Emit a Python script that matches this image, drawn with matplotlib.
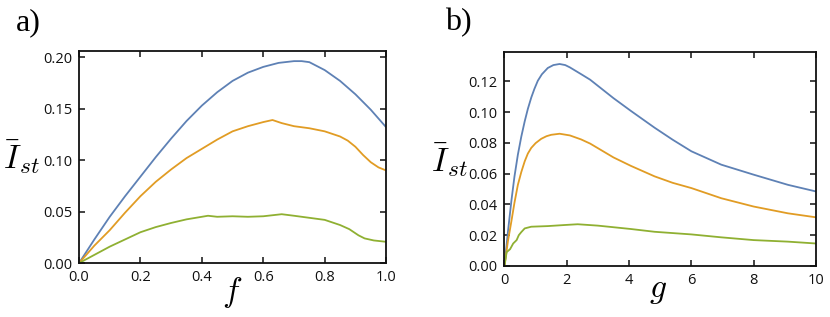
import matplotlib
matplotlib.use("Agg")
import matplotlib.pyplot as plt

plt.rcParams['mathtext.fontset'] = 'cm'
plt.rcParams['font.family'] = ['Open Sans', 'DejaVu Sans']

# ---- data, panel a (vs f) ----
f_blue = [0, .05, .1, .15, .2, .25, .3, .35, .4, .45, .5, .55, .6, .65, .7, .725, .75, .8, .85, .9, .95, 1.0]
a_blue = [0, .023, .045, .065, .084, .103, .121, .138, .153, .166, .177, .185, .1906, .1945, .1962, .1962, .1952, .1875, .177, .164, .149, .132]

f_orange = [0, .05, .1, .15, .2, .25, .3, .35, .4, .45, .5, .55, .6, .63, .66, .7, .75, .8, .85, .875, .9, .925, .95, .975, 1.0]
a_orange = [0, .017, .032, .049, .065, .079, .091, .102, .111, .120, .128, .133, .137, .139, .136, .133, .131, .128, .123, .119, .113, .105, .098, .093, .090]

f_green = [0, .05, .1, .15, .2, .25, .3, .35, .4, .42, .45, .5, .55, .6, .63, .66, .7, .75, .8, .85, .88, .91, .93, .96, 1.0]
a_green = [0, .008, .016, .023, .030, .035, .039, .0425, .045, .046, .045, .0455, .045, .0455, .0465, .0475, .046, .044, .042, .037, .033, .027, .024, .022, .0207]

# ---- data, panel b (vs g) ----
g_blue = [0, .11, .22, .32, .43, .54, .65, .75, .86, .96, 1.07, 1.2, 1.39, 1.57, 1.77, 1.95, 2.1, 2.46, 2.75,
          3.0, 3.5, 4.06, 4.82, 5.4, 6.0, 6.96, 8.0, 9.1, 10]
b_blue = [0, .022, .042, .058, .0723, .084, .094, .102, .1094, .115, .1203, .1245, .1286, .1305, .1312, .1305, .129, .1246, .121,
          .117, .109, .1007, .0898, .082, .0745, .0658, .0593, .0527, .0484]

g_orange = [0, .11, .22, .32, .43, .54, .65, .75, .86, 1.0, 1.18, 1.35, 1.5, 1.77, 2.1, 2.46, 2.75,
            3.0, 3.5, 4.06, 4.82, 5.4, 6.0, 6.96, 8.0, 9.1, 10]
b_orange = [0, .016, .0288, .041, .0527, .061, .068, .073, .0767, .0798, .0826, .0843, .0852, .0859, .0848, .0822, .0795,
            .0765, .0705, .065, .0582, .054, .0506, .044, .0386, .0342, .0316]

g_green = [0, .07, .18, .28, .39, .46, .54, .65, .86, 1.39, 1.93, 2.35, 3.0, 4.06, 4.82, 6.0, 6.96, 8.0, 9.1, 10]
b_green = [0, .009, .0109, .0146, .0168, .020, .022, .0244, .0255, .0259, .0266, .0271, .0262, .024, .0222, .0205, .0186, .0168, .0158, .0146]

BLUE, ORANGE, GREEN = '#5E81B5', '#E19C24', '#8FB032'

fig = plt.figure(figsize=(8.3, 3.17), dpi=100)
ax1 = fig.add_axes([0.0952, 0.170, 0.370, 0.669])
ax2 = fig.add_axes([0.6078, 0.161, 0.3753, 0.675])


def style(ax):
    for s in ax.spines.values():
        s.set_linewidth(1.3)
        s.set_color('#111111')
    ax.tick_params(direction='in', top=True, right=True, length=4, width=1.1,
                   labelsize=10.5, colors='#111111')
    ax.tick_params(axis='x', pad=5)
    ax.tick_params(axis='y', pad=5)


# panel a
ax1.plot(f_blue, a_blue, color=BLUE, lw=1.3)
ax1.plot(f_orange, a_orange, color=ORANGE, lw=1.3)
ax1.plot(f_green, a_green, color=GREEN, lw=1.3)
ax1.set_xlim(0, 1)
ax1.set_ylim(0, 0.206)
ax1.set_xticks([0, 0.2, 0.4, 0.6, 0.8, 1.0])
ax1.set_yticks([0, 0.05, 0.10, 0.15, 0.20])
ax1.set_xticklabels(['0.0', '0.2', '0.4', '0.6', '0.8', '1.0'])
ax1.set_yticklabels(['0.00', '0.05', '0.10', '0.15', '0.20'])
style(ax1)
fig.text(232 / 830, 1 - 292 / 317, r'$f$', fontsize=24, ha='center', va='center')
fig.text(21 / 830, 1 - 157 / 317, r'$\bar{I}_{st}$', fontsize=24, ha='center', va='center')
fig.text(28 / 830, 1 - 23 / 317, 'a)', fontsize=23, family='Liberation Serif', ha='center', va='center')

# panel b
ax2.plot(g_blue, b_blue, color=BLUE, lw=1.3)
ax2.plot(g_orange, b_orange, color=ORANGE, lw=1.3)
ax2.plot(g_green, b_green, color=GREEN, lw=1.3)
ax2.set_xlim(0, 10)
ax2.set_ylim(0, 0.139)
ax2.set_xticks([0, 2, 4, 6, 8, 10])
ax2.set_yticks([0, 0.02, 0.04, 0.06, 0.08, 0.10, 0.12])
ax2.set_yticklabels(['0.00', '0.02', '0.04', '0.06', '0.08', '0.10', '0.12'])
style(ax2)
fig.text(658 / 830, 1 - 290 / 317, r'$g$', fontsize=24, ha='center', va='center')
fig.text(449 / 830, 1 - 160 / 317, r'$\bar{I}_{st}$', fontsize=24, ha='center', va='center')
fig.text(458 / 830, 1 - 23 / 317, 'b)', fontsize=23, family='Liberation Serif', ha='center', va='center')

fig.savefig('out.png', dpi=100)
